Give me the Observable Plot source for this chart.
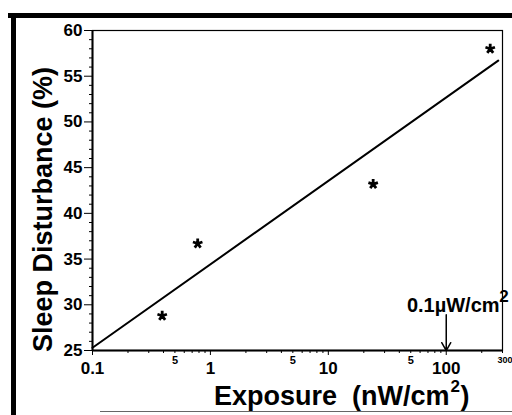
<!DOCTYPE html>
<html>
<head>
<meta charset="utf-8">
<script src="https://cdn.jsdelivr.net/npm/d3@7"></script>
<script src="https://cdn.jsdelivr.net/npm/@observablehq/plot@0.6"></script>
<style>
  html, body { margin: 0; padding: 0; background: #fff; }
  #wrap { position: relative; width: 512px; height: 415px; overflow: hidden; background: #fff; }
  #wrap svg { position: absolute; left: 0; top: 0; }
  #wrap svg text { font-weight: bold; }
  .b { position: absolute; background: #000; }
</style>
</head>
<body>
<div id="wrap">
  <div class="b" style="left:8px;top:13px;width:504px;height:5px;"></div>
  <div class="b" style="left:11px;top:13px;width:5px;height:402px;"></div>
  <div class="b" style="left:100px;top:411px;width:412px;height:1px;background:#666;"></div>
</div>
<script>
// Measured data points (asterisks)
const exposure = [0.39, 0.78, 24, 236];
const disturbance = [28.8, 36.7, 43.2, 58.0];

// Fitted regression line endpoints
const fitExposure = [0.1, 276];
const fitDisturbance = [25.3, 56.7];

// Tick values and labels
const xMajorTicks = [0.1, 1, 10, 100];
const xMinorTicks = [0.2, 0.3, 0.4, 0.5, 0.6, 0.7, 0.8, 0.9, 2, 3, 4, 5, 6, 7, 8, 9, 20, 30, 40, 50, 60, 70, 80, 90, 200, 300];
const xSmallTickLabels = [0.5, 5, 50, 300];
const xSmallTickText = ["5", "5", "5", "300"];
const yMajorTicks = [25, 30, 35, 40, 45, 50, 55, 60];
const yMinorTicks = [26,27,28,29,31,32,33,34,36,37,38,39,41,42,43,44,46,47,48,49,51,52,53,54,56,57,58,59];

// Annotation
const annotX = [100];
const annotTextY = [29.4];
const annotArrowTop = [28.9];
const annotArrowBottom = [25];

const points = exposure.map((x, i) => ({x, y: disturbance[i]}));
const fit = fitExposure.map((x, i) => ({x, y: fitDisturbance[i]}));
const small = xSmallTickLabels.map((x, i) => ({x, t: xSmallTickText[i]}));

const font = "'Liberation Sans', Arial, Helvetica, sans-serif";

// five-armed asterisk symbol
const asterisk5 = {
  draw(ctx, size) {
    const r = Math.sqrt(size / Math.PI);
    for (let k = 0; k < 5; ++k) {
      const a = (2 * Math.PI * k) / 5;
      ctx.moveTo(0, 0);
      ctx.lineTo(r * Math.sin(a), -r * Math.cos(a));
    }
  }
};

const chart = Plot.plot({
  width: 512,
  height: 415,
  marginLeft: 92,
  marginRight: 10,
  marginTop: 30,
  marginBottom: 65,
  style: {fontFamily: font, fontWeight: "bold", color: "#000", background: "transparent", overflow: "visible"},
  x: {type: "log", domain: [0.1, 300], axis: null},
  y: {domain: [25, 60], axis: null},
  marks: [
    Plot.frame({stroke: "#000", strokeWidth: 1.2}),
    Plot.ruleY([25], {stroke: "#000", strokeWidth: 2}),
    Plot.ruleX([0.1], {stroke: "#000", strokeWidth: 2}),
    Plot.axisY(yMajorTicks, {tickSize: 8, tickPadding: 2, fontSize: 17, label: null, tickFormat: d => String(d)}),
    Plot.axisY(yMinorTicks, {tickSize: 3, text: null, label: null}),
    Plot.axisX(xMajorTicks, {tickSize: 5, tickPadding: 6, fontSize: 17, label: null, tickFormat: d => String(d)}),
    Plot.axisX(xMinorTicks, {tickSize: 3, text: null, label: null}),
    Plot.text(small.slice(0, 3), {x: "x", y: 25, text: "t", fontSize: 11, dy: 10, textAnchor: "start", dx: -3}),
    Plot.text(small.slice(3), {x: "x", y: 25, text: "t", fontSize: 9, dy: 10, textAnchor: "start", dx: -5}),
    Plot.line(fit, {x: "x", y: "y", stroke: "#000", strokeWidth: 2}),
    Plot.dot(points, {x: "x", y: "y", symbol: asterisk5, stroke: "#000", strokeWidth: 2.8, fill: "none", r: 5}),
    Plot.text(annotX, {x: d => d, y: annotTextY, text: ["0.1µW/cm"], fontSize: 20, textAnchor: "middle", lineAnchor: "bottom", dx: 7, dy: 2}),
    Plot.text(annotX, {x: d => d, y: annotTextY, text: ["2"], fontSize: 17, textAnchor: "start", lineAnchor: "bottom", dx: 53, dy: -8}),
    Plot.arrow(annotX, {x1: d => d, x2: d => d, y1: annotArrowTop, y2: annotArrowBottom, stroke: "#000", strokeWidth: 1.5, headLength: 9, bend: 0}),
    Plot.text(["Sleep Disturbance (%)"], {frameAnchor: "left", rotate: -90, dx: -49, dy: 19, fontSize: 27, textAnchor: "middle"}),
    Plot.text(["Exposure  (nW/cm"], {frameAnchor: "bottom", dx: 152, dy: 46, fontSize: 27, textAnchor: "end", lineAnchor: "middle"}),
    Plot.text(["2"], {frameAnchor: "bottom", dx: 153, dy: 36, fontSize: 17, textAnchor: "start", lineAnchor: "middle"}),
    Plot.text([")"], {frameAnchor: "bottom", dx: 163, dy: 46, fontSize: 27, textAnchor: "start", lineAnchor: "middle"})
  ]
});
document.getElementById("wrap").appendChild(chart);
</script>
</body>
</html>
